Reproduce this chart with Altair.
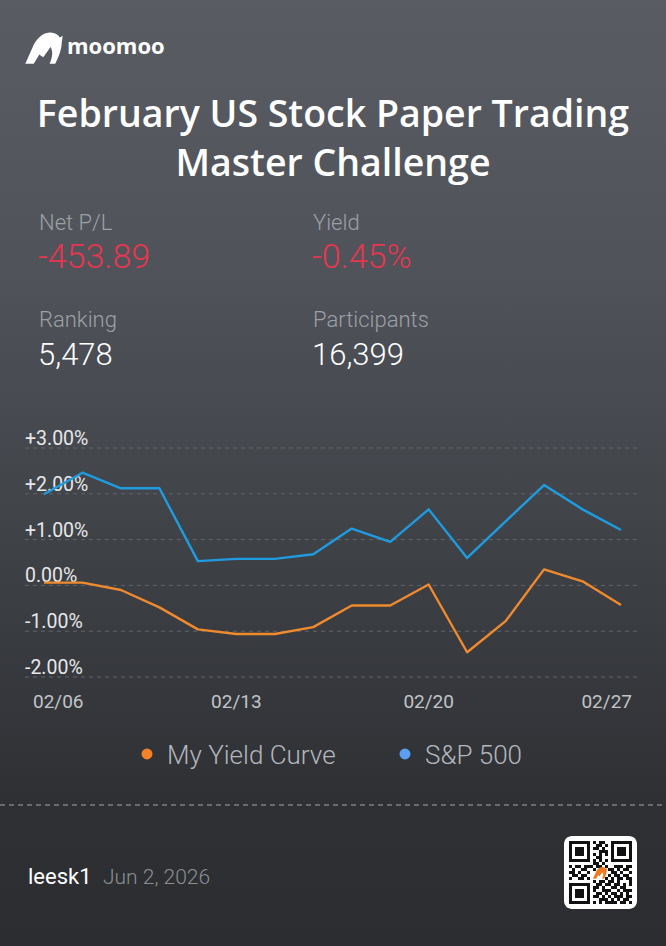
import altair as alt
import pandas as pd

# ---------------- data ----------------
dates = ["02/06", "02/09", "02/10", "02/11", "02/12", "02/13", "02/16", "02/17",
         "02/18", "02/19", "02/20", "02/23", "02/24", "02/25", "02/26", "02/27"]
my_yield = [0.06, 0.06, -0.10, -0.48, -0.96, -1.06, -1.06, -0.91,
            -0.44, -0.44, 0.02, -1.46, -0.78, 0.35, 0.09, -0.43]
sp500 = [1.99, 2.46, 2.12, 2.12, 0.53, 0.58, 0.58, 0.68,
         1.24, 0.95, 1.66, 0.60, 1.40, 2.19, 1.66, 1.21]
series_names = ["My Yield Curve", "S&P 500"]
series_colors = ["#f08a2e", "#1f9be0"]
legend_dot_colors = ["#f5822a", "#5b9ef2"]

y_ticks = [3, 2, 1, 0, -1, -2]
y_tick_labels = ["+3.00%", "+2.00%", "+1.00%", "0.00%", "-1.00%", "-2.00%"]
x_label_dates = ["02/06", "02/13", "02/20", "02/27"]

title_lines = ["February US Stock Paper Trading", "Master Challenge"]
stat_labels = ["Net P/L", "Yield", "Ranking", "Participants"]
stat_values = ["-453.89", "-0.45%", "5,478", "16,399"]
user_name = "leesk1"
post_date = "Jun 2, 2026"

qr_rows = [
    "111111101011001111111",
    "100000100110101000001",
    "101110101101001011101",
    "101110100011101011101",
    "101110101010101011101",
    "100000100110001000001",
    "111111101010101111111",
    "000000001101000000000",
    "101101110110100111011",
    "010011001000011010110",
    "110100100000001101001",
    "011011000000010110110",
    "100110100000101011011",
    "000000001011011010001",
    "111111100110110110101",
    "100000101101001101100",
    "101110101001110010111",
    "101110100110101101010",
    "101110101101010111011",
    "100000100011101010110",
    "111111101010111101101",
]

W, H = 666, 946
FONT = "Roboto"
TFONT = "Open Sans"

# ---------------- frames ----------------
long_df = pd.DataFrame({
    "date": dates * 2,
    "value": my_yield + sp500,
    "series": [series_names[0]] * len(dates) + [series_names[1]] * len(dates),
})
tick_df = pd.DataFrame({"v": y_ticks, "label": y_tick_labels})
xlab_df = pd.DataFrame({"date": x_label_dates})
qr_df = pd.DataFrame([
    {"c": c, "r": r} for r, row in enumerate(qr_rows) for c, ch in enumerate(row) if ch == "1"
])

xs = alt.Scale(type="point", domain=dates, range=[44, 621], padding=0)
ys = alt.Scale(domain=[-2, 3], range=[677, 448], nice=False, zero=False)

one = alt.Data(values=[{}])

def txt(s, x, y, size, color, weight="normal", align="left", font=FONT):
    return alt.Chart(one).mark_text(
        text=s, fontSize=size, color=color, fontWeight=weight, align=align,
        baseline="alphabetic", font=font
    ).encode(x=alt.value(x), y=alt.value(y))

layers = []

# background gradient
layers.append(
    alt.Chart(one).mark_rect(
        fill=alt.Gradient(
            gradient="linear", x1=0, x2=0, y1=0, y2=1,
            stops=[
                alt.GradientStop(offset=0, color="#595c63"),
                alt.GradientStop(offset=0.28, color="#50535a"),
                alt.GradientStop(offset=0.55, color="#404348"),
                alt.GradientStop(offset=0.85, color="#2e3034"),
                alt.GradientStop(offset=1, color="#2b2d31"),
            ],
        )
    ).encode(x=alt.value(0), x2=alt.value(W), y=alt.value(0), y2=alt.value(H))
)

# logo: stylised bull head
bull = ("M-1,0.95 L-0.62,0.1 C-0.45,-0.35 -0.1,-0.7 0.3,-0.72 "
        "C0.55,-0.74 0.75,-0.62 0.85,-0.45 L1,-0.55 L0.95,-0.2 "
        "C0.95,0.15 0.8,0.55 0.6,0.95 L0.3,0.95 "
        "C0.45,0.6 0.5,0.3 0.35,0.05 C0.2,0.25 0.05,0.5 -0.05,0.6 "
        "L-0.25,0.45 C-0.35,0.6 -0.45,0.8 -0.55,0.95 Z")
layers.append(
    alt.Chart(one).mark_point(shape=bull, filled=True, fill="white",
                              opacity=1, size=1400, strokeWidth=0)
    .encode(x=alt.value(44), y=alt.value(46))
)
layers.append(txt("moomoo", 67, 54, 22, "white", "bold", font=TFONT))

# title
layers.append(txt(title_lines[0], W / 2, 127, 37.5, "white", 600, "center", font=TFONT))
layers.append(txt(title_lines[1], W / 2, 176, 37.5, "white", 600, "center", font=TFONT))

# stats
label_col = "#9da0a6"
red = "#e8364f"
layers.append(txt(stat_labels[0], 39, 230, 22, label_col, 300))
layers.append(txt(stat_labels[1], 313, 230, 22, label_col, 300))
layers.append(txt(stat_values[0], 38, 268, 34, red, 300))
layers.append(txt(stat_values[1], 312, 268, 34, red, 300))
layers.append(txt(stat_labels[2], 39, 327, 22, label_col, 300))
layers.append(txt(stat_labels[3], 313, 327, 22, label_col, 300))
layers.append(txt(stat_values[2], 38, 365, 31, "white", 300))
layers.append(txt(stat_values[3], 312, 365, 31, "white", 300))

# grid lines
layers.append(
    alt.Chart(tick_df).mark_rule(color="#62656b", strokeDash=[4, 4], strokeWidth=1)
    .encode(y=alt.Y("v:Q", scale=ys, axis=None), x=alt.value(25), x2=alt.value(637))
)
layers.append(
    alt.Chart(tick_df).mark_text(align="left", baseline="alphabetic", dy=-3,
                                 fontSize=19.5, color="#e6e7e9", font=FONT)
    .encode(y=alt.Y("v:Q", scale=ys, axis=None), x=alt.value(25), text="label:N")
)

# lines
layers.append(
    alt.Chart(long_df).mark_line(strokeWidth=2.4, strokeJoin="round")
    .encode(
        x=alt.X("date:O", scale=xs, axis=None, sort=dates),
        y=alt.Y("value:Q", scale=ys, axis=None),
        color=alt.Color("series:N", scale=alt.Scale(domain=series_names, range=series_colors), legend=None),
        detail="series:N",
    )
)

# x labels
xl_color = "#c2c4c7"
for d, al, dx in [(x_label_dates[0], "left", -11), (x_label_dates[1], "center", 0),
                  (x_label_dates[2], "center", 0), (x_label_dates[3], "right", 11)]:
    layers.append(
        alt.Chart(xlab_df).transform_filter(alt.datum.date == d)
        .mark_text(align=al, baseline="alphabetic", dx=dx, fontSize=19, color=xl_color, font=FONT)
        .encode(x=alt.X("date:O", scale=xs, axis=None, sort=dates), y=alt.value(708), text="date:N")
    )

# legend
leg_text = "#b4b7bc"
layers.append(alt.Chart(one).mark_circle(size=120, color=legend_dot_colors[0], opacity=1)
              .encode(x=alt.value(147), y=alt.value(754)))
layers.append(txt(series_names[0], 167, 764, 26, leg_text, 300))
layers.append(alt.Chart(one).mark_circle(size=120, color=legend_dot_colors[1], opacity=1)
              .encode(x=alt.value(405), y=alt.value(754)))
layers.append(txt(series_names[1], 425, 764, 26, leg_text, 300))

# separator
layers.append(
    alt.Chart(one).mark_rule(color="#a3a5a8", strokeDash=[5, 4], strokeWidth=1)
    .encode(x=alt.value(0), x2=alt.value(W), y=alt.value(805))
)

# footer
layers.append(txt(user_name, 28, 884, 22, "white", "normal"))
layers.append(txt(post_date, 103, 884, 21, "#8b8e93", 300))

# QR card
layers.append(
    alt.Chart(one).mark_rect(fill="white", cornerRadius=8)
    .encode(x=alt.value(564), x2=alt.value(637), y=alt.value(836), y2=alt.value(909))
)
qx = alt.Scale(domain=[0, 21], range=[569, 632])
qy = alt.Scale(domain=[0, 21], range=[841, 904])
layers.append(
    alt.Chart(qr_df).transform_calculate(c2="datum.c + 1", r2="datum.r + 1")
    .mark_rect(fill="#111111")
    .encode(x=alt.X("c:Q", scale=qx, axis=None), x2="c2:Q",
            y=alt.Y("r:Q", scale=qy, axis=None), y2="r2:Q")
)
layers.append(
    alt.Chart(one).mark_point(shape=bull, filled=True, fill="#f07a22",
                              opacity=1, size=200, strokeWidth=0)
    .encode(x=alt.value(600), y=alt.value(872))
)

chart = alt.layer(*layers).resolve_scale(x="independent", y="independent").properties(
    width=W, height=H, autosize=alt.AutoSizeParams(type="none"), padding=0,
    background="#2b2d31",
).configure_view(stroke=None)

chart.save("out.html", embed_options={"renderer": "svg", "actions": False})
